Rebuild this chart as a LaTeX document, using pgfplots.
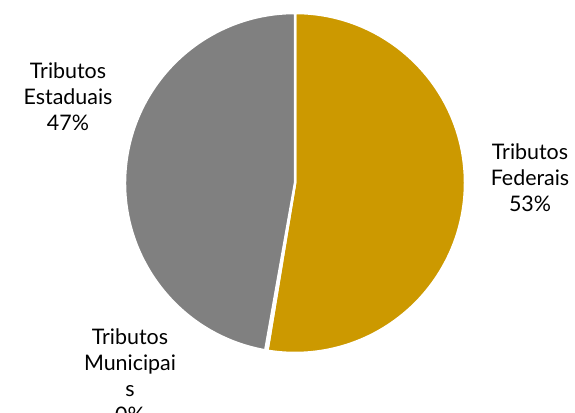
\documentclass[border=0pt]{standalone}
\usepackage{pgfplots}
\usepackage{pgfplotstable}
\usepackage{fontspec}
\setmainfont{Lato}
\pgfplotsset{compat=1.18}
\definecolor{fedgold}{RGB}{204,153,0}
\definecolor{estgray}{RGB}{128,128,128}

\pgfplotstableread{
label share
Federais 52.6
Municipais 0.2
Estaduais 47.2
}\pietable

\begin{document}
\begin{tikzpicture}
\useasboundingbox (0,0) rectangle (575bp,413bp);
% slice angles from the table (clockwise from the top)
\pgfplotstablegetelem{0}{share}\of\pietable \let\shA\pgfplotsretval
\pgfplotstablegetelem{1}{share}\of\pietable \let\shB\pgfplotsretval
\pgfplotstablegetelem{2}{share}\of\pietable \let\shC\pgfplotsretval
\pgfmathsetmacro\angA{90-3.6*\shA}
\pgfmathsetmacro\angB{\angA-3.6*\shB}
\pgfmathsetmacro\angC{\angB-3.6*\shC}
\begin{axis}[
    at={(0,0)}, anchor=south west,
    scale only axis, width=575bp, height=413bp,
    xmin=0, xmax=575, ymin=0, ymax=413,
    hide axis, clip=false,
    font=\fontsize{21.5}{26}\selectfont,
]
\addplot[draw=none] coordinates {(0,0) (575,413)};
\filldraw[fill=fedgold, draw=white, line width=2.5bp]
    (axis cs:295,230) -- ++(90:170bp) arc[start angle=90, end angle=\angA, radius=170bp] -- cycle;
\filldraw[fill=fedgold, draw=white, line width=2.5bp]
    (axis cs:295,230) -- ++(\angA:170bp) arc[start angle=\angA, end angle=\angB, radius=170bp] -- cycle;
\filldraw[fill=estgray, draw=white, line width=2.5bp]
    (axis cs:295,230) -- ++(\angB:170bp) arc[start angle=\angB, end angle=\angC, radius=170bp] -- cycle;
\node[align=center, inner sep=0] at (axis cs:68,316) {Tributos\\Estaduais\\47\%};
\node[align=center, inner sep=0] at (axis cs:530,235) {Tributos\\Federais\\53\%};
\node[align=center, inner sep=0] at (axis cs:130,37) {Tributos\\Municipai\\s\\0\%};
\end{axis}
\end{tikzpicture}
\end{document}
